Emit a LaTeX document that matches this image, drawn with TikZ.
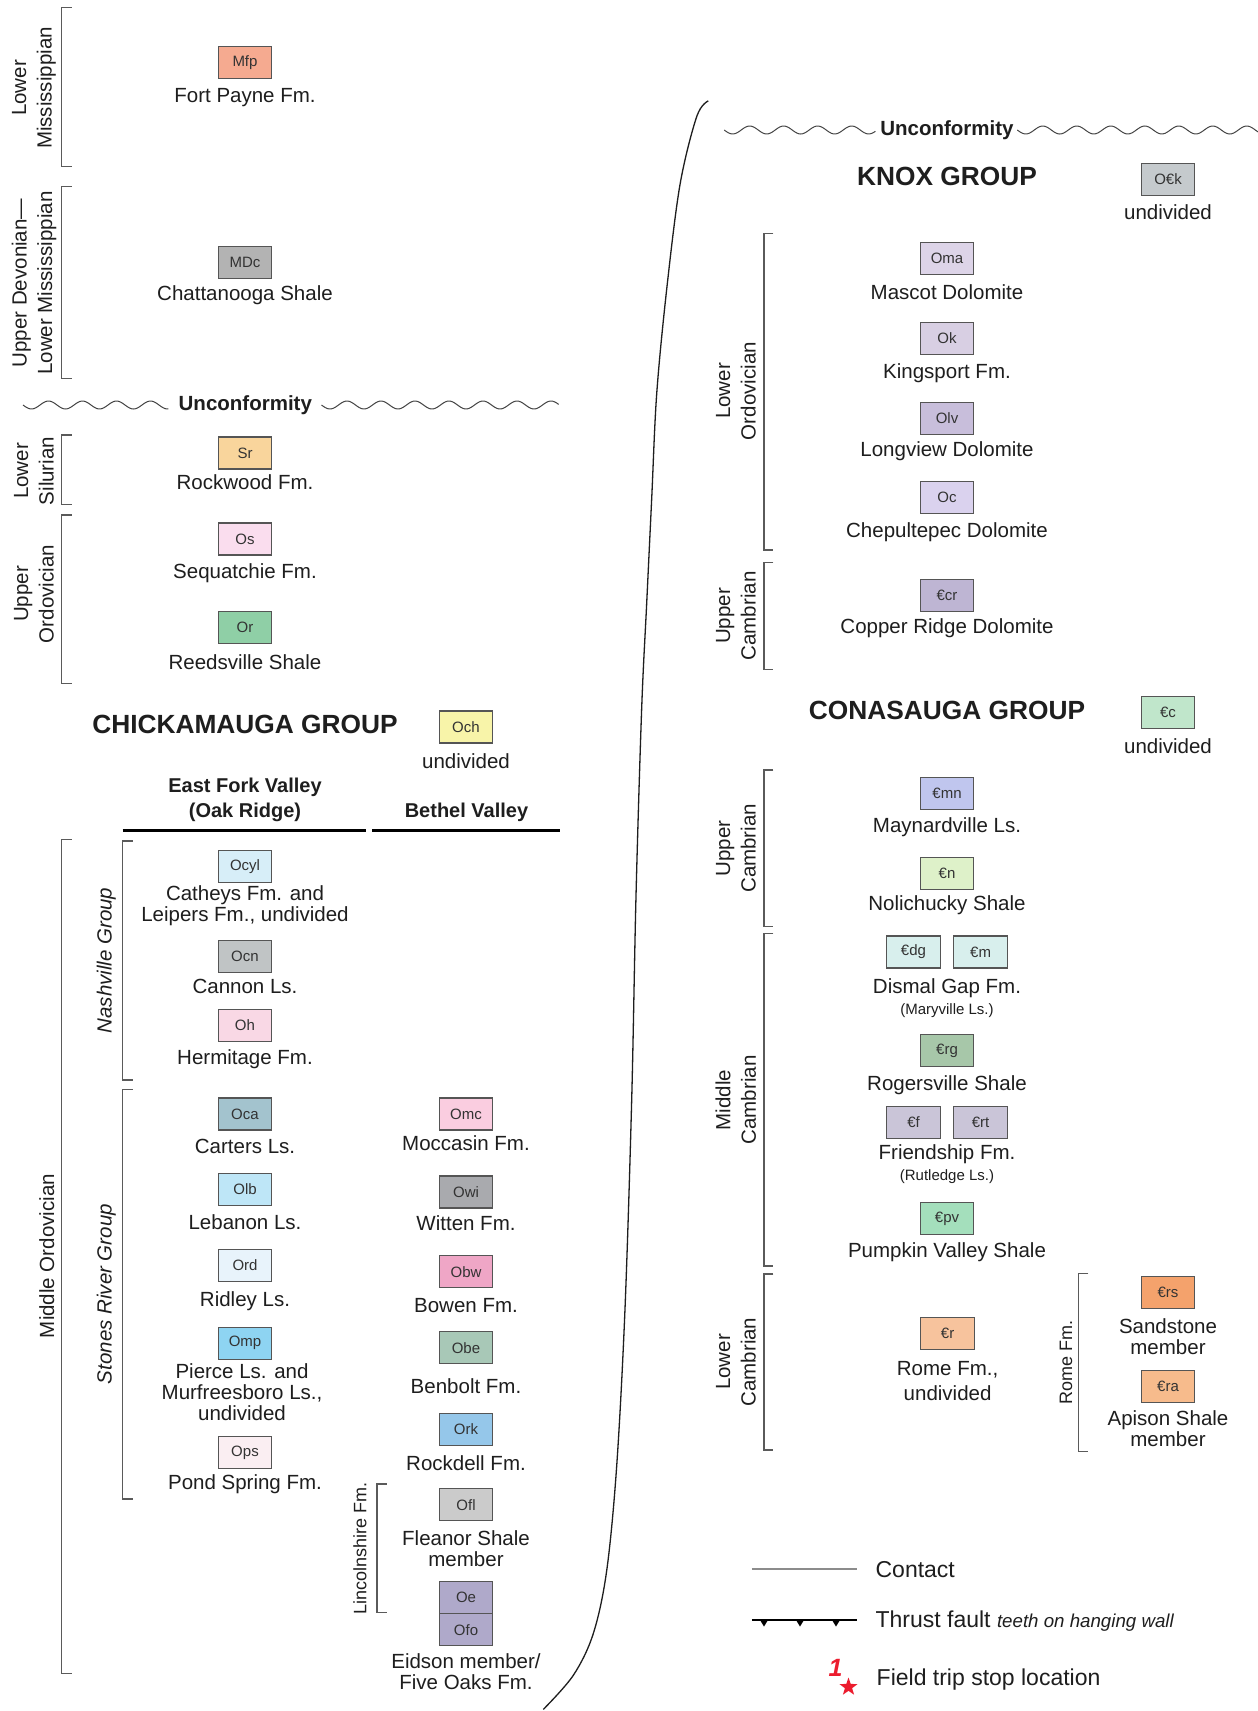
\documentclass[tikz,border=0pt]{standalone}
\usepackage{fontspec}
\setmainfont{Liberation Sans}
\usetikzlibrary{shapes.geometric}
\definecolor{txt}{HTML}{1E1E1E}
\definecolor{txtbox}{HTML}{333333}
\definecolor{boxline}{HTML}{555555}
\definecolor{brkcol}{HTML}{5A5A5A}
\definecolor{wavecol}{HTML}{444444}
\definecolor{starred}{HTML}{EC1C2E}
\definecolor{cMfp}{HTML}{F5AA90}
\definecolor{cMDc}{HTML}{B3B3B3}
\definecolor{cSr}{HTML}{F9D59C}
\definecolor{cOs}{HTML}{FADDEE}
\definecolor{cOr}{HTML}{8FCFA6}
\definecolor{cOch}{HTML}{F8F4A9}
\definecolor{cOcyl}{HTML}{D7EEF8}
\definecolor{cOcn}{HTML}{C0C4C5}
\definecolor{cOh}{HTML}{F9D8E5}
\definecolor{cOca}{HTML}{A3C3CE}
\definecolor{cOlb}{HTML}{BEE6F7}
\definecolor{cOrd}{HTML}{E8F3FB}
\definecolor{cOmp}{HTML}{8ED4F2}
\definecolor{cOps}{HTML}{FAEEF2}
\definecolor{cOmc}{HTML}{FACDE0}
\definecolor{cOwi}{HTML}{A9AAAE}
\definecolor{cObw}{HTML}{EFA6C6}
\definecolor{cObe}{HTML}{A8C8B7}
\definecolor{cOrk}{HTML}{95C7EA}
\definecolor{cOfl}{HTML}{CBCBCB}
\definecolor{cOe}{HTML}{AFA9CA}
\definecolor{cOCk}{HTML}{C5CACD}
\definecolor{cOma}{HTML}{DDD4E8}
\definecolor{cOk}{HTML}{D8CFE3}
\definecolor{cOlv}{HTML}{C8BEDB}
\definecolor{cOc}{HTML}{DAD2EE}
\definecolor{cCcr}{HTML}{BEB5D3}
\definecolor{cCc}{HTML}{C0E6CB}
\definecolor{cCmn}{HTML}{C0C6EE}
\definecolor{cCn}{HTML}{DEF1C9}
\definecolor{cCdg}{HTML}{D8EFED}
\definecolor{cCrg}{HTML}{A7C7A9}
\definecolor{cCf}{HTML}{CAC5D8}
\definecolor{cCpv}{HTML}{A4DFBC}
\definecolor{cCr}{HTML}{F7C39D}
\definecolor{cCrs}{HTML}{F4A26C}
\definecolor{cCra}{HTML}{F7BB8C}
\newcommand{\fFm}{\fontsize{20.5pt}{21pt}\selectfont}
\newcommand{\fFmW}{\fontsize{20.5pt}{25pt}\selectfont}
\newcommand{\fBox}{\fontsize{15pt}{15pt}\selectfont}
\newcommand{\fGrp}{\bfseries\fontsize{26.3pt}{28pt}\selectfont}
\newcommand{\fUnc}{\bfseries\fontsize{20.5pt}{22pt}\selectfont}
\newcommand{\fHead}{\bfseries\fontsize{20pt}{25pt}\selectfont}
\newcommand{\fPer}{\fontsize{20.5pt}{25.5pt}\selectfont}
\newcommand{\fSub}{\fontsize{15pt}{16pt}\selectfont}
\newcommand{\fSmallPer}{\fontsize{18pt}{20pt}\selectfont}
\newcommand{\fLeg}{\fontsize{23pt}{25pt}\selectfont}
\newcommand{\mybrak}[4]{\draw[brk] (#2,#3) -- (#1,#3) -- (#1,#4) -- (#2,#4);}
\begin{document}
\begin{tikzpicture}[x=1pt,y=-1pt,
  ubox/.style={draw=boxline, line width=1.2pt, minimum width=53.5pt, minimum height=32pt, inner sep=0pt, font=\fBox, text=txtbox},
  fm/.style={font=\fFm, align=center, inner sep=0pt, text=txt},
  fmw/.style={font=\fFmW, align=center, inner sep=0pt, text=txt},
  sub/.style={font=\fSub, inner sep=0pt, text=txt},
  grp/.style={font=\fGrp, inner sep=0pt, text=txt},
  unc/.style={font=\fUnc, inner sep=0pt, text=txt},
  hd/.style={font=\fHead, align=center, inner sep=0pt, text=txt},
  per/.style={rotate=90, align=center, font=\fPer, inner sep=0pt, text=txt},
  brk/.style={draw=brkcol, line width=1.2pt},
  wave/.style={draw=wavecol, line width=1pt},
  leg/.style={font=\fLeg, inner sep=0pt, text=txt, anchor=base west}]
\useasboundingbox (0,0) rectangle (1258,1711);
\fill[white] (0,0) rectangle (1258,1711);

% ---------------- left half ----------------
\mybrak{61.2}{71.6}{7.3}{166.7}
\node[per] (pLM) at (34,88) {Lower\\Mississippian};
\node[ubox, fill=cMfp] (mfp) at (245,62.7) {Mfp};
\node[fm] (tmfp) at (245,97.5) {Fort Payne Fm.};

\mybrak{61.2}{71.6}{186.7}{378.3}
\node[per] (pUD) at (34,283) {Upper Devonian—\\Lower Mississippian};
\node[ubox, fill=cMDc] (mdc) at (245,262.5) {MDc};
\node[fm] (tmdc) at (245,295) {Chattanooga Shale};

\draw[wave] plot[domain=23:168.4, samples=80, smooth] (\x,{405+4*sin((\x-23)/34*360)});
\node[unc] (unc1) at (245.3,405) {Unconformity};
\draw[wave] plot[domain=321.5:558.7, samples=120, smooth] (\x,{405+4*sin((\x-321.5)/34*360)});

\mybrak{61.2}{71.6}{435}{504.3}
\node[per] (pLS) at (34,471) {Lower\\Silurian};
\node[ubox, fill=cSr] (sr) at (245,453) {Sr};
\node[fm] (tsr) at (245,481.7) {Rockwood Fm.};

\mybrak{61.2}{71.6}{515}{683.3}
\node[per] (pUO) at (34,594) {Upper\\Ordovician};
\node[ubox, fill=cOs] (os) at (245,539) {Os};
\node[fm] (tos) at (245,573.5) {Sequatchie Fm.};
\node[ubox, fill=cOr] (or) at (245,627.7) {Or};
\node[fm] (tor) at (245,662.3) {Reedsville Shale};

\node[grp] (chick) at (245,724) {CHICKAMAUGA GROUP};
\node[ubox, fill=cOch] (och) at (466,727) {Och};
\node[fm] (toch) at (466,760.7) {undivided};

\node[hd] (efv) at (245,800) {East Fork Valley\\(Oak Ridge)};
\node[hd] (bv) at (466.5,812.7) {Bethel Valley};
\draw[line width=3.2pt] (122.5,830.7) -- (365.5,830.7);
\draw[line width=3.2pt] (372.4,830.7) -- (559.9,830.7);

\mybrak{61.2}{71.6}{839.3}{1673.3}
\node[per] (pMO) at (46.9,1256) {Middle Ordovician};
\mybrak{122.5}{132.8}{841}{1080}
\node[per, font=\fPer\itshape] (pNG) at (106.2,960.5) {Nashville Group};
\mybrak{122.5}{132.8}{1089.3}{1499}
\node[per, font=\fPer\itshape] (pSR) at (106.2,1294) {Stones River Group};

\node[ubox, fill=cOcyl] (ocyl) at (245,866.8) {Ocyl};
\node[fm] (tocyl) at (245,905.5) {Catheys Fm. and\\Leipers Fm., undivided};
\node[ubox, fill=cOcn] (ocn) at (245,956.5) {Ocn};
\node[fm] (tocn) at (245,986.7) {Cannon Ls.};
\node[ubox, fill=cOh] (oh) at (245,1025.3) {Oh};
\node[fm] (toh) at (245,1059.5) {Hermitage Fm.};
\node[ubox, fill=cOca] (oca) at (245,1114) {Oca};
\node[fm] (toca) at (245,1146) {Carters Ls.};
\node[ubox, fill=cOlb] (olb) at (245,1189.2) {Olb};
\node[fm] (tolb) at (245,1221.7) {Lebanon Ls.};
\node[ubox, fill=cOrd] (ord) at (245,1265.5) {Ord};
\node[fm] (tord) at (245,1301) {Ridley Ls.};
\node[ubox, fill=cOmp] (omp) at (245,1343.3) {Omp};
\node[fm] (tomp) at (242,1392) {Pierce Ls. and\\Murfreesboro Ls.,\\undivided};
\node[ubox, fill=cOps] (ops) at (245,1452.5) {Ops};
\node[fm] (tops) at (245,1484.5) {Pond Spring Fm.};

\node[ubox, fill=cOmc] (omc) at (466,1114) {Omc};
\node[fm] (tomc) at (466,1143.3) {Moccasin Fm.};
\node[ubox, fill=cOwi] (owi) at (466,1192) {Owi};
\node[fm] (towi) at (466,1223.3) {Witten Fm.};
\node[ubox, fill=cObw] (obw) at (466,1271.7) {Obw};
\node[fm] (tobw) at (466,1305.7) {Bowen Fm.};
\node[ubox, fill=cObe] (obe) at (466,1347.8) {Obe};
\node[fm] (tobe) at (466,1385.7) {Benbolt Fm.};
\node[ubox, fill=cOrk] (ork) at (466,1429.2) {Ork};
\node[fm] (tork) at (466,1463.3) {Rockdell Fm.};
\mybrak{377}{386.5}{1484}{1612.7}
\node[per, font=\fSmallPer] (pLF) at (360,1548) {Lincolnshire Fm.};
\node[ubox, fill=cOfl] (ofl) at (466,1504.7) {Ofl};
\node[fm] (tofl) at (466,1548.7) {Fleanor Shale\\member};
\node[ubox, fill=cOe] (oe) at (466,1597.5) {Oe};
\node[ubox, fill=cOe] (ofo) at (466,1629.7) {Ofo};
\node[fm] (tofo) at (466,1671.3) {Eidson member/\\Five Oaks Fm.};

% ---------------- dividing curve ----------------
\draw[line width=1.3pt, draw=txt] plot[smooth, tension=0.55] coordinates {
 (708.3,100.9) (696.7,116.6) (680,184.6) (666.7,289.2) (656.7,393.8) (651.7,498.4)
 (646.7,603) (641.7,707.6) (636,896) (631.7,1099.4) (625,1308.8) (616.7,1465.9)
 (606.7,1570.6) (593.3,1633.5) (573.3,1675.3) (543.3,1709.4)};

% ---------------- right half ----------------
\draw[wave] plot[domain=724.2:875.4, samples=80, smooth] (\x,{130+4*sin((\x-724.2)/34*360)});
\node[unc] (unc2) at (946.9,130) {Unconformity};
\draw[wave] plot[domain=1017.3:1258, samples=120, smooth] (\x,{130+4*sin((\x-1017.3)/34*360)});

\node[grp] (knox) at (947,176) {KNOX GROUP};
\node[ubox, fill=cOCk] (ock) at (1168,179.3) {O€k};
\node[fm] (tock) at (1168,211.7) {undivided};

\mybrak{764}{773.3}{233.3}{550}
\node[per] (pLO) at (735.8,391) {Lower\\Ordovician};
\node[ubox, fill=cOma] (oma) at (947,258.3) {Oma};
\node[fm] (toma) at (947,291.7) {Mascot Dolomite};
\node[ubox, fill=cOk] (ok) at (947,338.5) {Ok};
\node[fm] (tok) at (947,373.5) {Kingsport Fm.};
\node[ubox, fill=cOlv] (olv) at (947,418.2) {Olv};
\node[fm] (tolv) at (947,451.5) {Longview Dolomite};
\node[ubox, fill=cOc] (oc) at (947,497.2) {Oc};
\node[fm] (toc) at (947,532.5) {Chepultepec Dolomite};

\mybrak{764}{773.3}{562.7}{669.3}
\node[per] (pUC1) at (735.8,616) {Upper\\Cambrian};
\node[ubox, fill=cCcr] (ccr) at (947,595.5) {€cr};
\node[fm] (tccr) at (947,628.5) {Copper Ridge Dolomite};

\node[grp] (cona) at (947,710) {CONASAUGA GROUP};
\node[ubox, fill=cCc] (cc) at (1168,712.8) {€c};
\node[fm] (tcc) at (1168,745.7) {undivided};

\mybrak{764}{773.3}{770}{926.7}
\node[per] (pUC2) at (735.8,848.3) {Upper\\Cambrian};
\node[ubox, fill=cCmn] (cmn) at (947,793.5) {€mn};
\node[fm] (tcmn) at (947,827.5) {Maynardville Ls.};
\node[ubox, fill=cCn] (cn) at (947,873.5) {€n};
\node[fm] (tcn) at (947,905.5) {Nolichucky Shale};

\mybrak{764}{773.3}{933.3}{1266}
\node[per] (pMC) at (735.8,1100) {Middle\\Cambrian};
\node[ubox, fill=cCdg] (cdg) at (913.5,952) {€dg};
\node[ubox, fill=cCdg] (cm) at (980.6,952) {€m};
\node[fm] (tcdg) at (947,988) {Dismal Gap Fm.};
\node[sub] (tmary) at (947,1010.5) {(Maryville Ls.)};
\node[ubox, fill=cCrg] (crg) at (947,1050.7) {€rg};
\node[fm] (tcrg) at (947,1085.5) {Rogersville Shale};
\node[ubox, fill=cCf] (cf) at (913.5,1122.2) {€f};
\node[ubox, fill=cCf] (crt) at (980.6,1122.2) {€rt};
\node[fm] (tcf) at (947,1154.5) {Friendship Fm.};
\node[sub] (trut) at (947,1177) {(Rutledge Ls.)};
\node[ubox, fill=cCpv] (cpv) at (947,1218.5) {€pv};
\node[fm] (tcpv) at (947,1252.5) {Pumpkin Valley Shale};

\mybrak{764}{773.3}{1274}{1450}
\node[per] (pLC) at (735.8,1362) {Lower\\Cambrian};
\node[ubox, fill=cCr] (cr) at (947.6,1333.8) {€r};
\node[fmw] (tcr) at (947.6,1381.5) {Rome Fm.,\\undivided};
\mybrak{1078.8}{1088.4}{1273.3}{1451.7}
\node[per, font=\fSmallPer] (pRF) at (1066,1362.7) {Rome Fm.};
\node[ubox, fill=cCrs] (crs) at (1168,1292.2) {€rs};
\node[fm] (tcrs) at (1168,1336.3) {Sandstone\\member};
\node[ubox, fill=cCra] (cra) at (1168,1386.2) {€ra};
\node[fm] (tcra) at (1168,1428.5) {Apison Shale\\member};

% ---------------- legend ----------------
\coordinate (ca) at (751.9,1569);
\coordinate (cb) at (856.9,1569);
\draw[draw=gray!90, line width=1.2pt] (ca) -- (cb);
\node[leg] (tcontact) at (875.4,1577) {Contact};
\coordinate (ta) at (751.9,1620);
\coordinate (tb) at (856.9,1620);
\draw[line width=2.8pt] (ta) -- (tb);
\foreach \tx in {764,800,836}{
  \fill (\tx-4,1620) -- (\tx+4,1620) -- (\tx,1626.5) -- cycle;
}
\node[leg] (tthrust) at (875.4,1627) {Thrust fault \textit{\fontsize{18.7pt}{20pt}\selectfont teeth on hanging wall}};
\node[font=\bfseries\itshape\fontsize{25pt}{26pt}\selectfont, text=starred, inner sep=0pt] (one) at (835.5,1668) {1};
\node[star, star points=5, star point ratio=2.5, fill=starred, draw=none, minimum size=19pt, inner sep=0pt] (stop) at (848.5,1687) {};
\node[leg] (tstop) at (876.5,1685.5) {Field trip stop location};
\end{tikzpicture}
\end{document}
